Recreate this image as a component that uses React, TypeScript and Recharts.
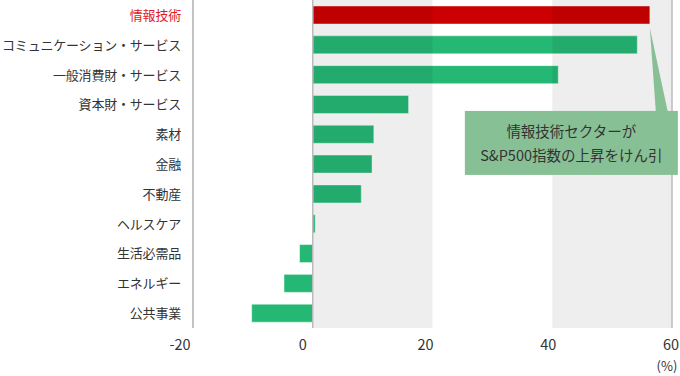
import { BarChart, Bar, XAxis, YAxis, ReferenceArea, ReferenceLine, ReferenceDot, Cell } from "recharts";

const sectors = [
  "情報技術",
  "コミュニケーション・サービス",
  "一般消費財・サービス",
  "資本財・サービス",
  "素材",
  "金融",
  "不動産",
  "ヘルスケア",
  "生活必需品",
  "エネルギー",
  "公共事業",
];
const returns = [56.3, 54.2, 41.0, 16.0, 10.2, 9.9, 8.1, 0.4, -2.2, -4.8, -10.2];
const xTicks = [-20, 0, 20, 40, 60];
const bands = [
  [0, 20],
  [40, 60],
];
const highlight = "情報技術";
const calloutLines = ["情報技術セクターが", "S&P500指数の上昇をけん引"];
const unitLabel = "(%)";

const data = sectors.map((name, i) => ({ name, value: returns[i] }));

function SectorTick(props: any) {
  const { x, y, payload } = props;
  const isHi = payload.value === highlight;
  return (
    <text x={x - 4} y={y} dy={5} textAnchor="end" fontSize={13} letterSpacing={-0.2} fill={isHi ? "#e0201c" : "#333"}>
      {payload.value}
    </text>
  );
}

// tick labels in the source sit a little left of their gridlines, less so to the right
function PercentTick(props: any) {
  const { x, y, payload, index } = props;
  const last = payload.value === xTicks[xTicks.length - 1];
  const shift = -13 + index * 3;
  return (
    <g>
      <text x={x + shift} y={y} dy={14} textAnchor="middle" fontSize={14.5} fill="#333">
        {payload.value}
      </text>
      {last && (
        <text x={x - 5} y={y} dy={35} textAnchor="middle" fontSize={13} fill="#333">
          {unitLabel}
        </text>
      )}
    </g>
  );
}

function Callout(props: any) {
  const { cx, cy } = props;
  const left = cx - 185;
  const right = cx + 28;
  const top = cy + 96;
  const bottom = cy + 160;
  const mid = (left + right) / 2;
  return (
    <g>
      <polygon points={`${cx},${cy + 13} ${cx + 6},${top + 1} ${cx + 18},${top + 1}`} fill="#88c095" />
      <rect x={left} y={top} width={right - left} height={bottom - top} fill="#88c095" />
      <text x={mid} y={top + 26} textAnchor="middle" fontSize={14.5} fill="#333">
        {calloutLines[0]}
      </text>
      <text x={mid} y={top + 50} textAnchor="middle" fontSize={14.5} fill="#333">
        {calloutLines[1]}
      </text>
    </g>
  );
}

export default function App() {
  return (
    <div style={{ position: "absolute", left: 0, top: 0, fontFamily: "'Noto Sans CJK JP', 'Noto Sans', sans-serif" }}>
      <BarChart
        width={680}
        height={376}
        data={data}
        layout="vertical"
        margin={{ top: 0, right: 8, bottom: 0, left: 0 }}
        barSize={18}
      >
        <XAxis
          type="number"
          domain={[-20, 60]}
          ticks={xTicks}
          height={48}
          axisLine={false}
          tickLine={false}
          tick={<PercentTick />}
          interval={0}
        />
        <YAxis
          type="category"
          dataKey="name"
          width={193}
          axisLine={{ stroke: "#888" }}
          tickLine={false}
          tick={<SectorTick />}
          interval={0}
        />
        <Bar dataKey="value" isAnimationActive={false} stroke="#ffffff" strokeOpacity={0.45} strokeWidth={1}>
          {data.map((d) => (
            <Cell key={d.name} fill={d.name === highlight ? "#cc0000" : "#25b874"} />
          ))}
        </Bar>
        {bands.map(([a, b]) => (
          <ReferenceArea key={a} x1={a} x2={b} fill="#000" fillOpacity={0.067} strokeWidth={0} zIndex={350} />
        ))}
        <ReferenceLine x={0} stroke="#bbb" strokeWidth={1.5} zIndex={360} />
        <ReferenceLine x={60} stroke="#bbb" strokeWidth={1.5} zIndex={360} />
        <ReferenceDot x={returns[0]} y={sectors[0]} r={0} shape={<Callout />} zIndex={400} />
      </BarChart>
    </div>
  );
}
